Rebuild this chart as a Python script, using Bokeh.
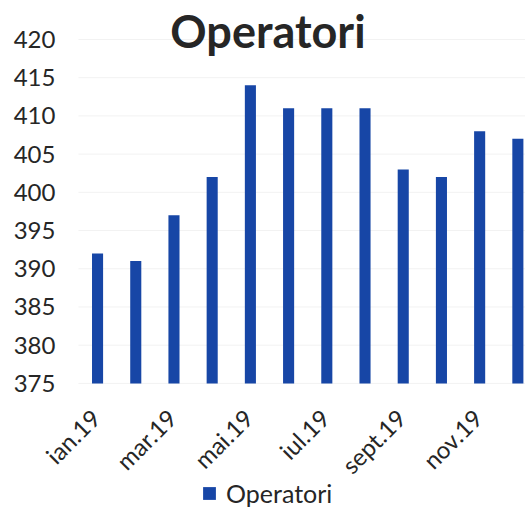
import math
from bokeh.plotting import figure
from bokeh.models import (ColumnDataSource, Range1d, Label, Legend, LegendItem)
from bokeh.core.properties import value
from bokeh.embed import file_html
from bokeh.resources import INLINE

months = ["ian.19", "feb.19", "mar.19", "apr.19", "mai.19", "iun.19",
          "iul.19", "aug.19", "sept.19", "oct.19", "nov.19", "dec.19"]
operatori = [392, 391, 397, 402, 414, 411, 411, 411, 403, 402, 408, 407]
y_ticks = [375, 380, 385, 390, 395, 400, 405, 410, 415, 420]
label_positions = [1, 3, 5, 7, 9, 11]

xs = list(range(1, len(months) + 1))
src = ColumnDataSource(dict(x=xs, top=operatori, month=months))
lab_src = ColumnDataSource(dict(x=label_positions,
                                y=[375] * len(label_positions),
                                text=[months[i - 1] for i in label_positions]))
ytick_src = ColumnDataSource(dict(x=[0.5] * len(y_ticks), y=y_ticks,
                                  text=[str(t) for t in y_ticks]))

# frame spans the whole canvas; ranges chosen so 375..420 and the bars sit as in the reference
p = figure(width=525, height=509, output_backend="svg", toolbar_location=None,
           x_range=Range1d(-1.54, 12.2), y_range=Range1d(358.5, 425.1),
           min_border_left=0, min_border_right=0, min_border_top=0,
           min_border_bottom=0)
p.outline_line_color = None
p.background_fill_color = "white"
p.border_fill_color = "white"
p.xaxis.visible = False
p.yaxis.visible = False
p.xgrid.grid_line_color = None
p.ygrid.grid_line_color = None

# faint horizontal gridlines over the plot area
p.segment(x0=0.5, x1=12.2, y0="y", y1="y", source=ytick_src,
          line_color="#f2f2f2", line_width=1)

r = p.vbar(x="x", top="top", bottom=375, width=0.29, source=src,
           fill_color="#1746a6", line_color=None)

# y tick labels
p.text(x="x", y="y", text="text", source=ytick_src, text_align="right",
       text_baseline="middle", x_offset=-23, text_font=value("Lato"),
       text_font_size="24px", text_color="#262626")

# rotated category labels
p.text(x="x", y="y", text="text", source=lab_src, angle=math.pi / 4,
       text_align="right", text_baseline="middle", x_offset=-2, y_offset=30,
       text_font=value("Lato"), text_font_size="24px", text_color="#262626")

# title overlapping top of plot area
title = Label(x=5.46, y=420, text="Operatori", text_font="Lato",
              text_font_style="bold", text_font_size="45px", text_color="#262626",
              text_align="center", text_baseline="alphabetic", y_offset=8)
p.add_layout(title)

legend = Legend(items=[LegendItem(label="Operatori", renderers=[r])],
                location=(201, 1), orientation="horizontal",
                label_text_font="Lato", label_text_font_size="25px",
                label_text_color="#262626", glyph_width=16, glyph_height=16,
                label_standoff=9, padding=2, margin=0, border_line_color=None,
                background_fill_alpha=0)
p.add_layout(legend)

open("out.html", "w").write(file_html(p, INLINE))
